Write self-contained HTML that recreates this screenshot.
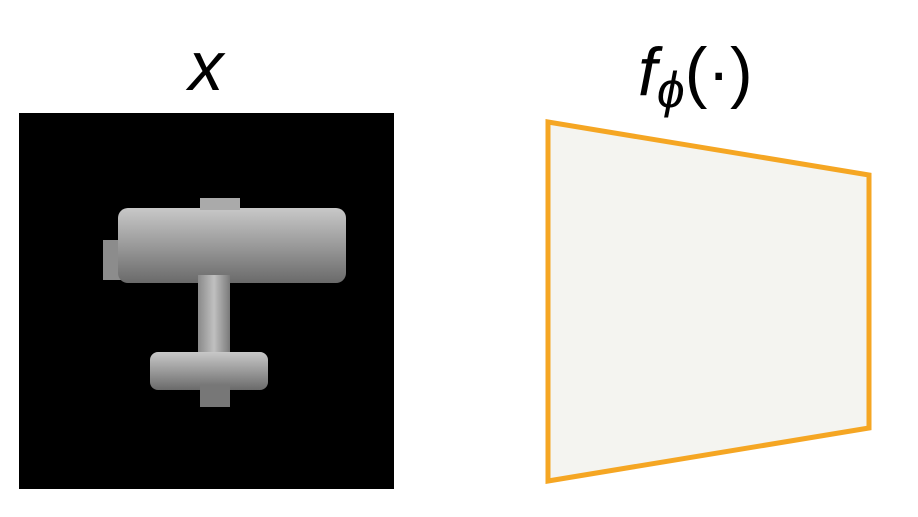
<!DOCTYPE html>
<html><head><meta charset="utf-8"><style>
html,body{margin:0;padding:0;background:#fff;width:918px;height:517px;overflow:hidden}
</style></head><body>
<svg width="918" height="517" viewBox="0 0 918 517">
<defs>
<linearGradient id="g1" x1="0" y1="0" x2="0" y2="1">
<stop offset="0" stop-color="#c8c8c8"/><stop offset="0.5" stop-color="#9a9a9a"/><stop offset="1" stop-color="#6a6a6a"/>
</linearGradient>
<linearGradient id="g2" x1="0" y1="0" x2="1" y2="0">
<stop offset="0" stop-color="#8a8a8a"/><stop offset="0.5" stop-color="#c0c0c0"/><stop offset="1" stop-color="#7a7a7a"/>
</linearGradient>
</defs>
<text x="206" y="90" font-family="Liberation Sans, sans-serif" font-style="italic" font-size="70" text-anchor="middle">x</text>
<rect x="19" y="113" width="375" height="376" fill="#000"/>
<g>
<rect x="103" y="240" width="20" height="40" fill="#8c8c8c"/>
<rect x="118" y="208" width="228" height="75" rx="10" fill="url(#g1)"/>
<rect x="200" y="198" width="40" height="12" fill="#aaa"/>
<rect x="198" y="275" width="32" height="85" fill="url(#g2)"/>
<rect x="150" y="352" width="118" height="38" rx="8" fill="url(#g1)"/>
<rect x="200" y="385" width="30" height="22" fill="#777"/>
</g>
<text x="638" y="95" font-family="Liberation Sans, sans-serif" font-style="italic" font-size="68">f<tspan font-size="50" dy="12">ϕ</tspan><tspan font-style="normal" font-size="68" dy="-12">(·)</tspan></text>
<polygon points="548,122 869,175 869,428 548,481" fill="#f4f4f0" stroke="#f5a623" stroke-width="5" stroke-linejoin="miter"/>
</svg>
</body></html>
